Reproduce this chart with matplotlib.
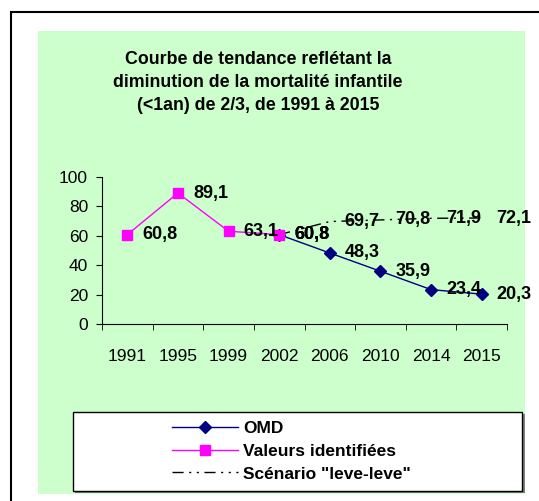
import matplotlib.pyplot as plt
from matplotlib.patches import Rectangle
from matplotlib.lines import Line2D

plt.rcParams['font.family'] = ['Liberation Sans', 'DejaVu Sans']

years = ['1991', '1995', '1999', '2002', '2006', '2010', '2014', '2015']
# Valeurs identifiees (1991-2002)
vi_idx = [0, 1, 2, 3]
vi_val = [60.8, 89.1, 63.1, 60.8]
# OMD (2002-2015)
omd_idx = [3, 4, 5, 6, 7]
omd_val = [60.8, 48.3, 35.9, 23.4, 20.3]
# Scenario "leve-leve" (2002-2015)
sc_idx = [3, 4, 5, 6, 7]
sc_val = [60.8, 69.7, 70.8, 71.9, 72.1]

W, H = 539, 501
fig = plt.figure(figsize=(W/100, H/100), dpi=100)
fig.patch.set_facecolor('white')

def fx(px): return px / W
def fy(py): return 1 - py / H

# outer black frame (cut by the image edge)
fig.patches.append(Rectangle((fx(11), -0.1), 1.2, fy(12) + 0.1, transform=fig.transFigure,
                             facecolor='none', edgecolor='black', lw=1.5, zorder=0))
# green chart area
fig.patches.append(Rectangle((fx(38), fy(494)), fx(525) - fx(38), fy(31) - fy(494),
                             transform=fig.transFigure, facecolor='#CCFFCC', edgecolor='none', zorder=0))
# legend box with shadow
fig.patches.append(Rectangle((fx(75), fy(493)), fx(525) - fx(75), fy(414) - fy(493),
                             transform=fig.transFigure, facecolor='#808080', edgecolor='none', zorder=1))
fig.patches.append(Rectangle((fx(73), fy(491)), fx(522) - fx(73), fy(412) - fy(491),
                             transform=fig.transFigure, facecolor='white', edgecolor='black', lw=1, zorder=2))

title_lines = ['Courbe de tendance reflétant la',
               'diminution de la mortalité infantile',
               '(<1an) de 2/3, de 1991 à 2015']
for line, py in zip(title_lines, [60, 83, 105]):
    fig.text(fx(258), fy(py), line, ha='center', va='center', fontsize=12.8, fontweight='bold')

ax = fig.add_axes([fx(102), fy(324), fx(507) - fx(102), fy(177) - fy(324)])
ax.set_facecolor('none')
ax.set_zorder(3)

dash = (0, (8, 4, 1.5, 4, 1.5, 4))
xs = lambda idx: [i + 0.5 for i in idx]
ax.plot(xs(sc_idx), sc_val, color='black', lw=1, linestyle=dash)
ax.plot(xs(omd_idx), omd_val, color='#000080', lw=1, marker='D', markersize=6.5)
ax.plot(xs(vi_idx), vi_val, color='#FF00FF', lw=1, marker='s', markersize=7.5)

for idx, vals in [(sc_idx, sc_val), (omd_idx, omd_val), (vi_idx, vi_val)]:
    for i, v in zip(idx, vals):
        ax.annotate(f'{v:.1f}'.replace('.', ','), (i + 0.5, v), xytext=(15, 0),
                    textcoords='offset pixels', ha='left', va='center',
                    fontsize=13, fontweight='bold')

ax.set_xlim(0, len(years))
ax.set_ylim(0, 100)
ax.set_yticks(range(0, 101, 20))
ax.set_xticks([i + 0.5 for i in range(len(years))])
ax.set_xticklabels(years)
ax.set_xticks(range(len(years) + 1), minor=True)
ax.tick_params(axis='x', which='major', length=0, pad=18, labelsize=12.5)
ax.tick_params(axis='x', which='minor', length=4, direction='out')
ax.tick_params(axis='y', length=4, direction='out', labelsize=12.5, pad=6)
for s in ['top', 'right']:
    ax.spines[s].set_visible(False)

handles = [Line2D([], [], color='#000080', lw=1, marker='D', markersize=6.5),
           Line2D([], [], color='#FF00FF', lw=1, marker='s', markersize=7.5),
           Line2D([], [], color='black', lw=1, linestyle=dash)]
labels = ['OMD', 'Valeurs identifiées', 'Scénario "leve-leve"']
leg = fig.legend(handles, labels, loc='center left', bbox_to_anchor=(fx(172), fy(451)),
                 frameon=False, borderpad=0, borderaxespad=0, handlelength=3.8,
                 handletextpad=0.3, labelspacing=0.45, prop={'size': 12.5, 'weight': 'bold'})
leg.set_zorder(5)

fig.savefig('out.png', dpi=100)
